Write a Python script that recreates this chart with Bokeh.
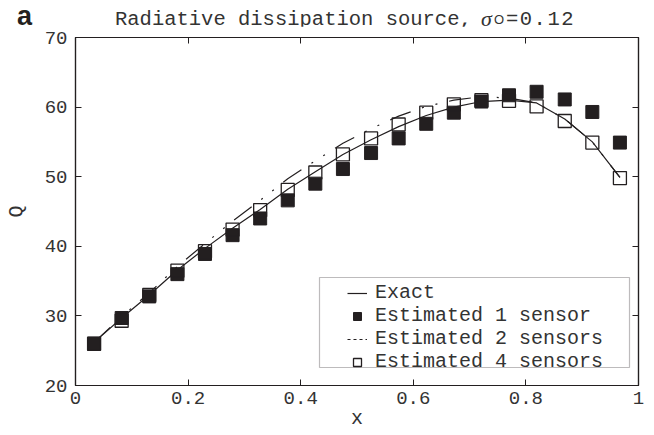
from bokeh.plotting import figure
from bokeh.layouts import column
from bokeh.models import (LinearAxis, Range1d, Legend, LegendItem, Div,
                          BoxAnnotation, ColumnDataSource, CustomJSTickFormatter)
from bokeh.embed import file_html
from bokeh.resources import INLINE

# ---- data ----
x_pos = [0.033, 0.082, 0.131, 0.181, 0.230, 0.279, 0.328, 0.377, 0.426, 0.475,
         0.525, 0.574, 0.623, 0.672, 0.721, 0.770, 0.819, 0.869, 0.918, 0.967]
exact = [26.2, 29.7, 33.0, 36.6, 39.7, 42.6, 45.3, 48.2, 50.7, 53.2,
         55.3, 57.2, 58.8, 60.0, 60.8, 61.0, 60.6, 58.3, 55.0, 49.9]
sensor1 = [26.0, 29.7, 32.8, 36.0, 38.9, 41.6, 44.0, 46.6, 49.0, 51.1,
           53.4, 55.5, 57.6, 59.2, 60.8, 61.7, 62.2, 61.1, 59.3, 54.9]
sensor2 = [26.2, 29.9, 33.3, 37.1, 40.4, 43.6, 46.6, 49.7, 52.3, 54.8,
           56.9, 58.7, 60.1, 61.0, 61.5, 61.3, 60.6, 58.3, 55.0, 49.9]
sensor4 = [26.0, 29.3, 33.0, 36.5, 39.3, 42.4, 45.2, 48.1, 50.6, 53.2,
           55.5, 57.5, 59.2, 60.4, 61.0, 60.9, 60.1, 58.0, 54.9, 49.8]
series_names = ["Exact", "Estimated 1 sensor", "Estimated 2 sensors", "Estimated 4 sensors"]
x_ticks = [0, 0.2, 0.4, 0.6, 0.8, 1.0]
x_tick_labels = ["0", "0.2", "0.4", "0.6", "0.8", "1"]
y_ticks = [20, 30, 40, 50, 60, 70]
title_text = "Radiative dissipation source,"
title_symbol = "σ"
title_sub = "O"
title_value = "=0.12"
panel_letter = "a"

INK = "#231f20"
TXT = "#333333"
MONO = "Liberation Mono"
W = 646
HEAD_H = 26
BL, BR, BT, BB = 75, 8, 11, 50
FH = 348
H = BT + FH + BB

# ---- header strip carrying the panel letter and the title ----
def span(txt, left, top, font, size, color, extra=""):
    return (f'<span style="position:absolute;left:{left}px;top:{top}px;'
            f'font-family:\'{font}\';font-size:{size}px;line-height:{size}px;'
            f'color:{color};white-space:nowrap;{extra}">{txt}</span>')

head_html = (
    f'<div style="position:relative;width:{W}px;height:{HEAD_H}px;">'
    + span(panel_letter, 17, 3, "Liberation Sans", 27, INK, "font-weight:bold;")
    + span(title_text, 115, 10, MONO, 20.5, TXT)
    + span(title_symbol, 481, 8, "Liberation Serif", 22, TXT, "font-style:italic;")
    + span(title_sub, 494, 13, "Liberation Sans", 13, TXT)
    + span(title_value, 506, 10, MONO, 20.5, TXT, "letter-spacing:1.5px;")
    + '</div>'
)
head = Div(text=head_html, width=W, height=HEAD_H, margin=0)

# ---- main plot ----
src = ColumnDataSource(dict(x=x_pos, exact=exact, s1=sensor1, s2=sensor2, s4=sensor4))

p = figure(width=W, height=H, x_range=Range1d(0, 1), y_range=Range1d(20, 70),
           output_backend="svg", toolbar_location=None,
           min_border_left=BL, min_border_right=BR, min_border_top=BT, min_border_bottom=BB)
p.xgrid.visible = False
p.ygrid.visible = False
p.outline_line_color = INK
p.outline_line_width = 1.2
p.background_fill_color = "white"

def style_axis(ax, show_labels):
    ax.axis_line_color = INK
    ax.axis_line_width = 1.2
    ax.major_tick_in = 6
    ax.major_tick_out = 0
    ax.minor_tick_in = 3
    ax.minor_tick_out = 0
    ax.major_tick_line_color = INK
    ax.minor_tick_line_color = INK
    if show_labels:
        ax.major_label_text_font = MONO
        ax.major_label_text_font_size = "19px"
        ax.major_label_text_color = TXT
    else:
        ax.formatter = CustomJSTickFormatter(code="return '';")
        ax.major_label_text_font_size = "1px"
        ax.major_label_standoff = 0

xa = p.xaxis[0]
ya = p.yaxis[0]
style_axis(xa, True)
style_axis(ya, True)
xa.ticker = x_ticks
xa.ticker.num_minor_ticks = 4
xa.major_label_overrides = {t: l for t, l in zip(x_ticks, x_tick_labels)}
ya.ticker = y_ticks
ya.ticker.num_minor_ticks = 5
xa.major_label_standoff = 6
ya.major_label_standoff = 8
xa.axis_label = "x"
ya.axis_label = "Q"
for ax in (xa, ya):
    ax.axis_label_text_font = MONO
    ax.axis_label_text_font_size = "20px"
    ax.axis_label_text_font_style = "normal"
    ax.axis_label_text_color = TXT
xa.axis_label_standoff = 0
ya.axis_label_standoff = 14

top = LinearAxis(ticker=x_ticks)
top.ticker.num_minor_ticks = 4
style_axis(top, False)
p.add_layout(top, "above")
right = LinearAxis(ticker=y_ticks)
right.ticker.num_minor_ticks = 5
style_axis(right, False)
p.add_layout(right, "right")

r_exact = p.line("x", "exact", source=src, line_color=INK, line_width=1.2)
r_s2 = p.line("x", "s2", source=src, line_color=INK, line_width=1.2,
              line_dash="22 12 2 12 2 12")
r_s1 = p.scatter("x", "s1", source=src, marker="square", size=13,
                 fill_color=INK, line_color=INK)
r_s4 = p.scatter("x", "s4", source=src, marker="square", size=13,
                 fill_color=None, line_color=INK, line_width=1.3)
# legend proxy for the dash-dot sample (a single NaN point, nothing drawn)
r_s2_leg = p.line(x=[float("nan")], y=[float("nan")], line_color=INK,
                  line_width=1.2, line_dash="3 3")

box = BoxAnnotation(left=244, right=554, bottom=18, top=108,
                    left_units="screen", right_units="screen",
                    bottom_units="screen", top_units="screen",
                    fill_color="white", fill_alpha=1.0,
                    line_color=INK, line_width=1.2, level="underlay",
                    editable=False)
p.add_layout(box)

legend = Legend(items=[
    LegendItem(label=series_names[0], renderers=[r_exact]),
    LegendItem(label=series_names[1], renderers=[r_s1]),
    LegendItem(label=series_names[2], renderers=[r_s2_leg]),
    LegendItem(label=series_names[3], renderers=[r_s4]),
], location=(267, 7))
legend.label_text_font = MONO
legend.label_text_font_size = "20px"
legend.label_text_color = TXT
legend.glyph_width = 20
legend.glyph_height = 20
legend.label_height = 20
legend.spacing = 0
legend.padding = 5
legend.margin = 0
legend.label_standoff = 8
legend.border_line_alpha = 0
legend.background_fill_alpha = 0
p.add_layout(legend)

layout = column(head, p, spacing=0)
open("out.html", "w").write(file_html(layout, INLINE))
